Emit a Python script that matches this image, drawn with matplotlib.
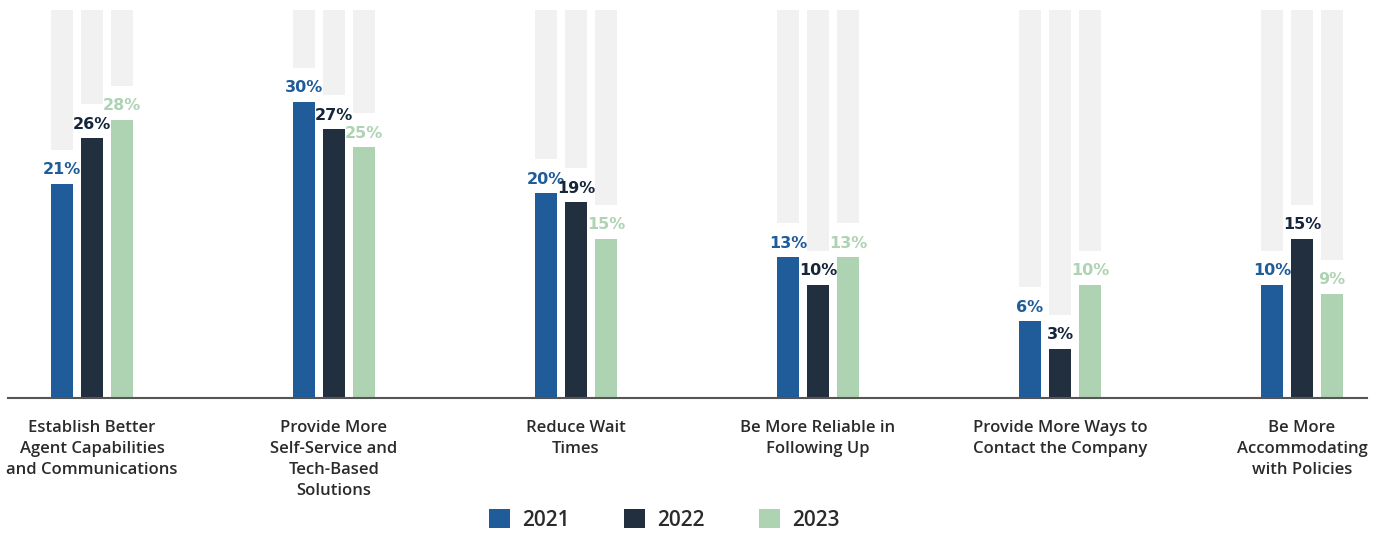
import matplotlib
matplotlib.use("Agg")
import matplotlib.pyplot as plt
from matplotlib.patches import Patch
import numpy as np

categories = [
    "Establish Better\nAgent Capabilities\nand Communications",
    "Provide More\nSelf-Service and\nTech-Based\nSolutions",
    "Reduce Wait\nTimes",
    "Be More Reliable in\nFollowing Up",
    "Provide More Ways to\nContact the Company",
    "Be More\nAccommodating\nwith Policies",
]
years = ["2021", "2022", "2023"]
values_2021 = [21, 30, 20, 13, 6, 10]
values_2022 = [26, 27, 19, 10, 3, 15]
values_2023 = [28, 25, 15, 13, 10, 9]

series = [values_2021, values_2022, values_2023]
bar_colors = ["#1f5c99", "#222f3f", "#aed3b3"]
label_colors = ["#1f5c99", "#15253a", "#aed3b3"]
track_color = "#f1f1f1"

y_max = 40
floor = 2.4          # bars rise from a small stub below zero
gap = 3.7            # space between bar top and its grey track

fig = plt.figure(figsize=(13.77, 5.34), dpi=100)
ax = fig.add_axes([8 / 1377, (534 - 398) / 534, (1367 - 8) / 1377, 388 / 534])

x = np.arange(len(categories))
width = 0.091
step = 0.124

for i, (vals, col, lcol) in enumerate(zip(series, bar_colors, label_colors)):
    xs = x + (i - 1) * step
    vals = np.array(vals, dtype=float)
    # grey track above each bar
    ax.bar(xs, y_max - (vals + gap), bottom=vals + gap, width=width,
           color=track_color, zorder=1)
    ax.bar(xs, vals + floor, bottom=-floor, width=width, color=col, zorder=2)
    for xi, v in zip(xs, vals):
        ax.text(xi, v + 0.7, f"{int(v)}%", ha="center", va="bottom",
                fontsize=11.5, fontweight="bold", fontstyle="normal",
                family="DejaVu Sans", color=lcol, zorder=3)

ax.set_xlim(-84 / 242, (1367 - 92) / 242)
ax.set_ylim(-floor, y_max)
for s in ["top", "right", "left"]:
    ax.spines[s].set_visible(False)
ax.spines["bottom"].set_color("#555555")
ax.spines["bottom"].set_linewidth(1.5)
ax.spines["bottom"].set_zorder(4)
ax.set_yticks([])
ax.set_xticks(x)
ax.set_xticklabels(categories, fontsize=12, family="Open Sans",
                   fontweight="semibold", color="#2b2b2b", linespacing=1.4,
                   va="top")
ax.tick_params(axis="x", length=0, pad=16)

handles = [Patch(facecolor=c, edgecolor="none") for c in bar_colors]
fig.legend(handles, years, loc="center", bbox_to_anchor=(664 / 1377, 1 - 520 / 534),
           ncol=3, frameon=False, handlelength=1.05, handleheight=1.05,
           handletextpad=0.55, columnspacing=2.6,
           prop={"family": "Open Sans", "weight": "semibold", "size": 15})
for t in fig.legends[0].get_texts():
    t.set_color("#2b2b2b")

fig.savefig("out.png", dpi=100)
